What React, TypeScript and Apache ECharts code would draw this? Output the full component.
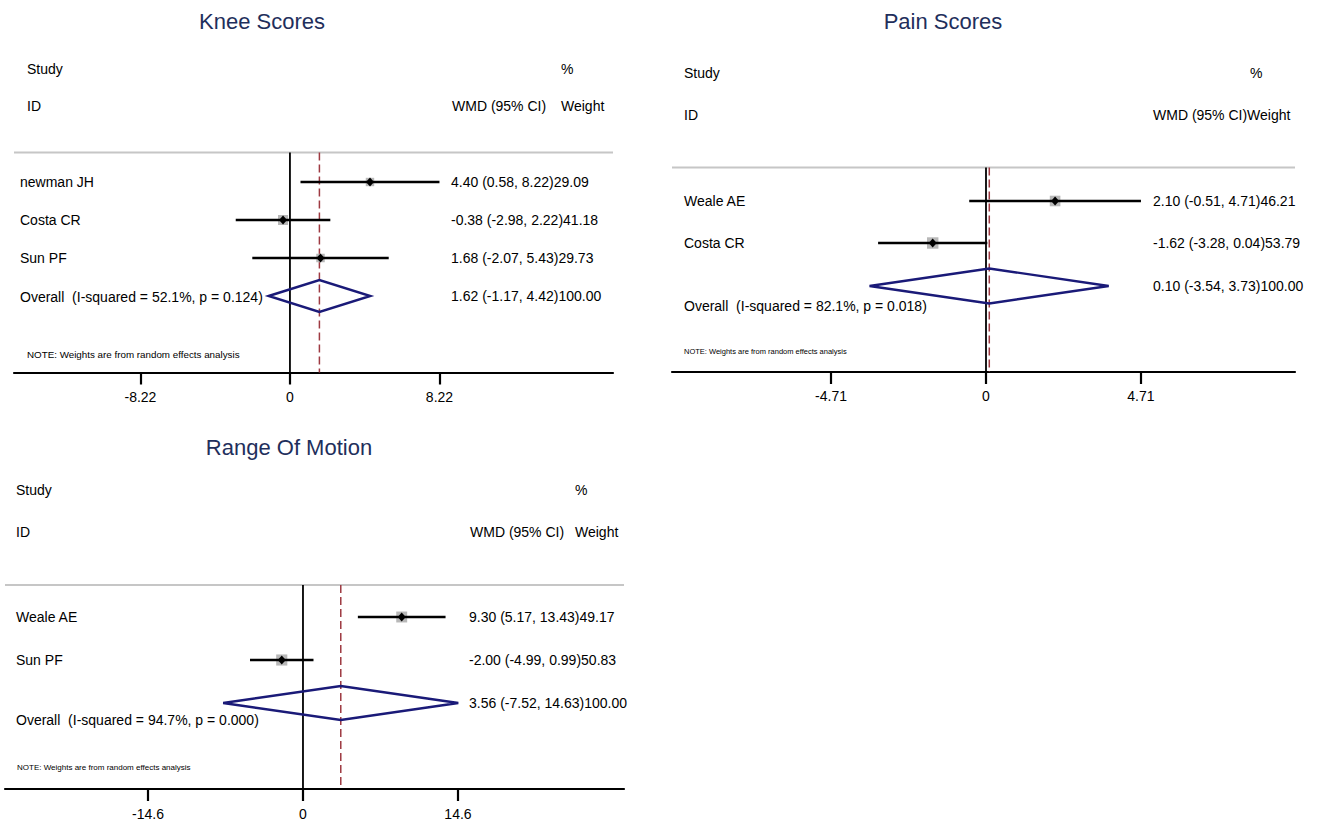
import { useEffect, useRef } from 'react';
import * as echarts from 'echarts';

// ---------- DATA ----------
const kneeStudies = ['newman JH', 'Costa CR', 'Sun PF'];
const kneeEst = [4.40, -0.38, 1.68];
const kneeLow = [0.58, -2.98, -2.07];
const kneeHigh = [8.22, 2.22, 5.43];
const kneeWeight = [29.09, 41.18, 29.73];
const kneeOverall = [1.62, -1.17, 4.42];
const kneeHet = 'Overall  (I-squared = 52.1%, p = 0.124)';
const kneeTicks = [-8.22, 0, 8.22];

const painStudies = ['Weale AE', 'Costa CR'];
const painEst = [2.10, -1.62];
const painLow = [-0.51, -3.28];
const painHigh = [4.71, 0.04];
const painWeight = [46.21, 53.79];
const painOverall = [0.10, -3.54, 3.73];
const painHet = 'Overall  (I-squared = 82.1%, p = 0.018)';
const painTicks = [-4.71, 0, 4.71];

const romStudies = ['Weale AE', 'Sun PF'];
const romEst = [9.30, -2.00];
const romLow = [5.17, -4.99];
const romHigh = [13.43, 0.99];
const romWeight = [49.17, 50.83];
const romOverall = [3.56, -7.52, 14.63];
const romHet = 'Overall  (I-squared = 94.7%, p = 0.000)';
const romTicks = [-14.6, 0, 14.6];

const NOTE = 'NOTE: Weights are from random effects analysis';

// ---------- STYLE / LAYOUT ----------
const FONT = '"Liberation Sans", Arial, Helvetica, sans-serif';
const TITLE_COLOR = '#1f2f5c';
const NAVY = '#1a1a78';
const DASH = '#9e3a42';
const BOX = '#b8b8b8';

type Panel = {
  title: string; titleX: number; titleY: number;
  studies: string[]; est: number[]; low: number[]; high: number[]; weight: number[];
  overall: number[]; het: string; ticks: number[];
  left: number; right: number; top: number; bottom: number;
  xMin: number; xMax: number; yMin: number; yMax: number;
  labelX: number; headX: number; studyY: number; idY: number;
  colX: number; wmdX: number; weightX: number; joined: boolean;
  overallLabelDy: number; noteRow: number; noteX: number; noteSize: number;
  diamondHalf: number; labelMargin: number;
};

const panels: Panel[] = [
  {
    title: 'Knee Scores', titleX: 262, titleY: 21,
    studies: kneeStudies, est: kneeEst, low: kneeLow, high: kneeHigh, weight: kneeWeight,
    overall: kneeOverall, het: kneeHet, ticks: kneeTicks,
    left: 14, right: 613, top: 152.5, bottom: 372.5,
    xMin: -15.17, xMax: 17.76, yMin: -0.776, yMax: 5.013,
    labelX: 20, headX: 27, studyY: 69, idY: 106,
    colX: 451, wmdX: 452, weightX: 561, joined: false,
    overallLabelDy: 1, noteRow: 4.53, noteX: 27, noteSize: 9.8,
    diamondHalf: 16, labelMargin: 17,
  },
  {
    title: 'Pain Scores', titleX: 943, titleY: 21,
    studies: painStudies, est: painEst, low: painLow, high: painHigh, weight: painWeight,
    overall: painOverall, het: painHet, ticks: painTicks,
    left: 672, right: 1295, top: 167.5, bottom: 372,
    xMin: -9.544, xMax: 9.392, yMin: -0.788, yMax: 4.024,
    labelX: 684, headX: 684, studyY: 73, idY: 115,
    colX: 1153, wmdX: 1153, weightX: 1250, joined: true,
    overallLabelDy: 20, noteRow: 3.53, noteX: 684, noteSize: 7.5,
    diamondHalf: 17.5, labelMargin: 17,
  },
  {
    title: 'Range Of Motion', titleX: 289, titleY: 447,
    studies: romStudies, est: romEst, low: romLow, high: romHigh, weight: romWeight,
    overall: romOverall, het: romHet, ticks: romTicks,
    left: 5, right: 624, top: 585, bottom: 789,
    xMin: -28.07, xMax: 30.24, yMin: -0.760, yMax: 4.012,
    labelX: 16, headX: 16, studyY: 490, idY: 532,
    colX: 469, wmdX: 470, weightX: 575, joined: false,
    overallLabelDy: 17, noteRow: 3.5, noteX: 17, noteSize: 8,
    diamondHalf: 17, labelMargin: 18,
  },
];

const f2 = (v: number) => v.toFixed(2);
const txt = (text: string, x: number, y: number, size = 14, extra: any = {}) => ({
  type: 'text', x, y, silent: true,
  style: { text, fill: '#000', fontSize: size, fontFamily: FONT, align: 'left', verticalAlign: 'middle', ...extra },
});

function buildOption() {
  const grid: any[] = [];
  const xAxis: any[] = [];
  const yAxis: any[] = [];
  const series: any[] = [];
  const graphic: any[] = [];

  panels.forEach((p, gi) => {
    grid.push({ left: p.left, top: p.top, width: p.right - p.left, height: p.bottom - p.top, containLabel: false });
    xAxis.push({
      type: 'value', gridIndex: gi, min: p.xMin, max: p.xMax,
      splitLine: { show: false },
      axisLine: { show: true, onZero: false, lineStyle: { color: '#000', width: 2.2 } },
      axisTick: { show: true, customValues: p.ticks, length: 12, lineStyle: { color: '#000', width: 2.2 } },
      axisLabel: {
        show: true, customValues: p.ticks, margin: p.labelMargin, color: '#000', fontSize: 14, fontFamily: FONT,
        formatter: (v: number) => (v === 0 ? '0' : String(v)),
      },
    });
    yAxis.push({ type: 'value', gridIndex: gi, min: p.yMin, max: p.yMax, inverse: true, show: false });

    // frame: separator line, zero line, dashed overall line, note
    series.push({
      type: 'custom', xAxisIndex: gi, yAxisIndex: gi, silent: true, z: 1,
      data: [[0, p.overall[0]]],
      renderItem: (_params: any, api: any) => {
        const x0 = api.coord([0, p.yMin])[0];
        const xo = api.coord([p.overall[0], p.yMin])[0];
        const yt = api.coord([0, p.yMin])[1];
        const yb = api.coord([0, p.yMax])[1];
        const xl = api.coord([p.xMin, 0])[0];
        const xr = api.coord([p.xMax, 0])[0];
        const yn = api.coord([0, p.noteRow])[1];
        return {
          type: 'group',
          children: [
            { type: 'line', shape: { x1: xl, y1: yt, x2: xr, y2: yt }, style: { stroke: '#c6c6c6', lineWidth: 2 } },
            { type: 'line', shape: { x1: x0, y1: yt, x2: x0, y2: yb }, style: { stroke: '#000', lineWidth: 1.8 } },
            { type: 'line', shape: { x1: xo, y1: yt, x2: xo, y2: yb }, style: { stroke: DASH, lineWidth: 1.5, lineDash: [8, 4] } },
            txt(NOTE, p.noteX, yn, p.noteSize),
          ],
        };
      },
    });

    // studies
    const studyData = p.studies.map((_, i) => [p.est[i], p.low[i], p.high[i], p.weight[i], i]);
    series.push({
      type: 'custom', xAxisIndex: gi, yAxisIndex: gi, silent: true, z: 3,
      data: studyData,
      renderItem: (params: any, api: any) => {
        const i = params.dataIndex;
        const est = api.value(0), lo = api.value(1), hi = api.value(2), w = api.value(3), row = api.value(4);
        const [xe, yRaw] = api.coord([est, row]);
        const y = Math.round(yRaw);
        const xl = api.coord([lo, row])[0];
        const xh = api.coord([hi, row])[0];
        const s = 1.56 * Math.sqrt(w);
        return {
          type: 'group',
          children: [
            { type: 'rect', shape: { x: xe - s / 2, y: y - s / 2, width: s, height: s }, style: { fill: BOX } },
            { type: 'line', shape: { x1: xl, y1: y, x2: xh, y2: y }, style: { stroke: '#000', lineWidth: 2.4 } },
            { type: 'polygon', shape: { points: [[xe - 4, y], [xe, y - 4.5], [xe + 4, y], [xe, y + 4.5]] }, style: { fill: '#000' } },
            txt(p.studies[i], p.labelX, y),
            txt(`${f2(est)} (${f2(lo)}, ${f2(hi)})${f2(w)}`, p.colX, y),
          ],
        };
      },
    });

    // overall diamond
    const row = p.studies.length;
    series.push({
      type: 'custom', xAxisIndex: gi, yAxisIndex: gi, silent: true, z: 2,
      data: [[p.overall[0], p.overall[1], p.overall[2], row]],
      renderItem: (_params: any, api: any) => {
        const est = api.value(0), lo = api.value(1), hi = api.value(2), r = api.value(3);
        const [xe, y] = api.coord([est, r]);
        const xl = api.coord([lo, r])[0];
        const xh = api.coord([hi, r])[0];
        const h = p.diamondHalf;
        return {
          type: 'group',
          children: [
            {
              type: 'polygon',
              shape: { points: [[xl, y], [xe, y - h], [xh, y], [xe, y + h]] },
              style: { fill: 'none', stroke: NAVY, lineWidth: 2.4, lineJoin: 'miter' },
            },
            txt(p.het, p.labelX, y + p.overallLabelDy),
            txt(`${f2(est)} (${f2(lo)}, ${f2(hi)})100.00`, p.colX, y),
          ],
        };
      },
    });

    // headers & title
    graphic.push({
      type: 'text', x: p.titleX, y: p.titleY, silent: true,
      style: { text: p.title, fill: TITLE_COLOR, fontSize: 22, fontFamily: FONT, align: 'center', verticalAlign: 'middle' },
    });
    graphic.push(txt('Study', p.headX, p.studyY));
    graphic.push(txt('ID', p.headX, p.idY));
    graphic.push(txt('%', p.weightX, p.studyY));
    if (p.joined) {
      graphic.push(txt('WMD (95% CI)Weight', p.wmdX, p.idY));
    } else {
      graphic.push(txt('WMD (95% CI)', p.wmdX, p.idY));
      graphic.push(txt('Weight', p.weightX, p.idY));
    }
  });

  return {
    animation: false,
    backgroundColor: '#ffffff',
    grid, xAxis, yAxis, series, graphic,
  };
}

export default function App() {
  const ref = useRef<HTMLDivElement>(null);
  useEffect(() => {
    if (!ref.current) return;
    const chart = echarts.init(ref.current, undefined, { renderer: 'svg' });
    chart.setOption(buildOption() as any);
    return () => chart.dispose();
  }, []);
  return (
    <div
      ref={ref}
      style={{ position: 'absolute', left: 0, top: 0, width: 1317, height: 824, background: '#fff' }}
    />
  );
}
